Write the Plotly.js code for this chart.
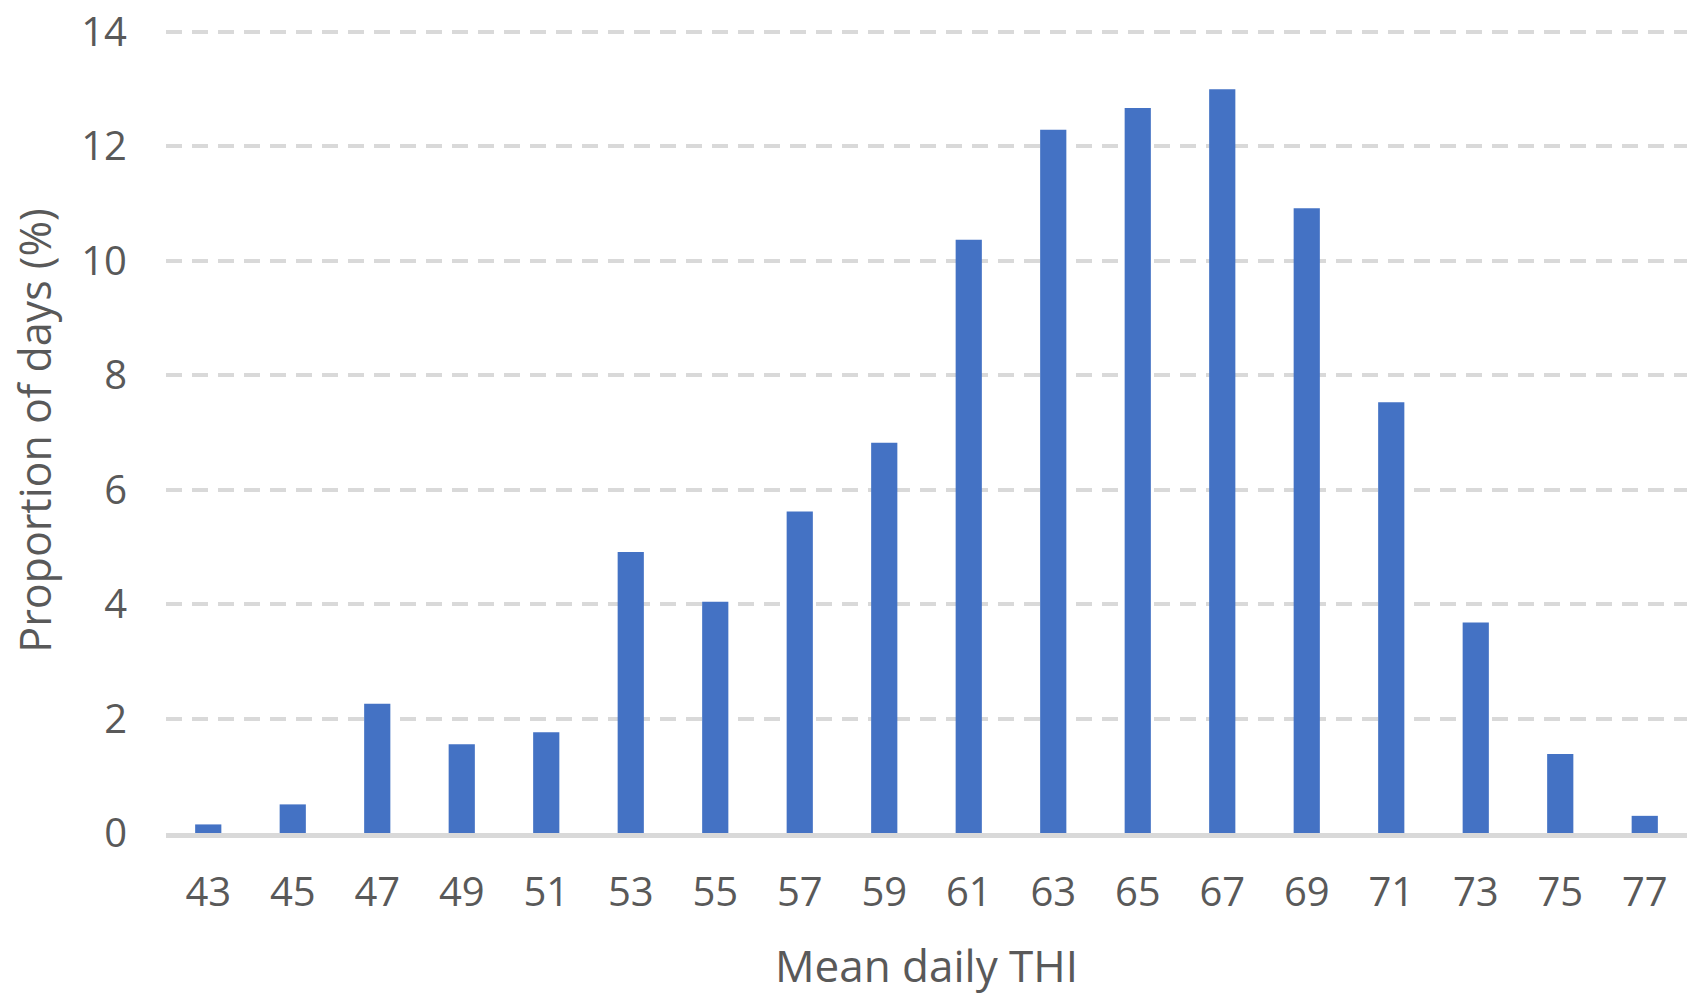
<!DOCTYPE html>
<html>
<head>
<meta charset="utf-8">
<script src="https://cdn.plot.ly/plotly-3.0.1.min.js"></script>
<style>
  html, body { margin: 0; padding: 0; background: #fff; }
  #chart { width: 1700px; height: 1006px; }
</style>
</head>
<body>
<div id="chart"></div>
<script>
// Mean daily THI classes and share of days in each (%)
const thiClasses = ['43', '45', '47', '49', '51', '53', '55', '57', '59',
                    '61', '63', '65', '67', '69', '71', '73', '75', '77'];
const dayShare = [0.15, 0.5, 2.26, 1.55, 1.76, 4.91, 4.04, 5.62, 6.82,
                  10.37, 12.29, 12.67, 13.0, 10.92, 7.53, 3.68, 1.38, 0.3];
const yTicks = [0, 2, 4, 6, 8, 10, 12, 14];

const textColor = '#595959';
const gridColor = '#d9d9d9';

const trace = {
    x: thiClasses,
    y: dayShare,
    type: 'bar',
    marker: { color: '#4472c4' },
    hoverinfo: 'x+y'
};

const layout = {
    width: 1700,
    height: 1006,
    paper_bgcolor: '#fff',
    plot_bgcolor: '#fff',
    font: { family: 'Open Sans, sans-serif', color: textColor, size: 40 },
    margin: { t: 28, b: 173, l: 166, r: 13 },
    bargap: 0.69,
    showlegend: false,
    xaxis: {
        type: 'category',
        showgrid: false,
        showline: true,
        linecolor: gridColor,
        linewidth: 5,
        ticks: '',
        ticklabelstandoff: 20,
        tickfont: { size: 40, color: textColor },
        title: { text: 'Mean daily THI', font: { size: 44, color: textColor }, standoff: 36 }
    },
    yaxis: {
        // a hair above 14 so the top dashed gridline is still drawn
        range: [0, 14.07],
        tickvals: yTicks,
        showgrid: true,
        gridcolor: gridColor,
        gridwidth: 4,
        griddash: '16px,10px',
        zeroline: false,
        showline: false,
        ticks: '',
        ticklabelstandoff: 38,
        tickfont: { size: 40, color: textColor },
        title: { text: 'Proportion of days (%)', font: { size: 43, color: textColor }, standoff: 16 }
    }
};

Plotly.newPlot('chart', [trace], layout, { displayModeBar: false, staticPlot: true });
</script>
</body>
</html>
